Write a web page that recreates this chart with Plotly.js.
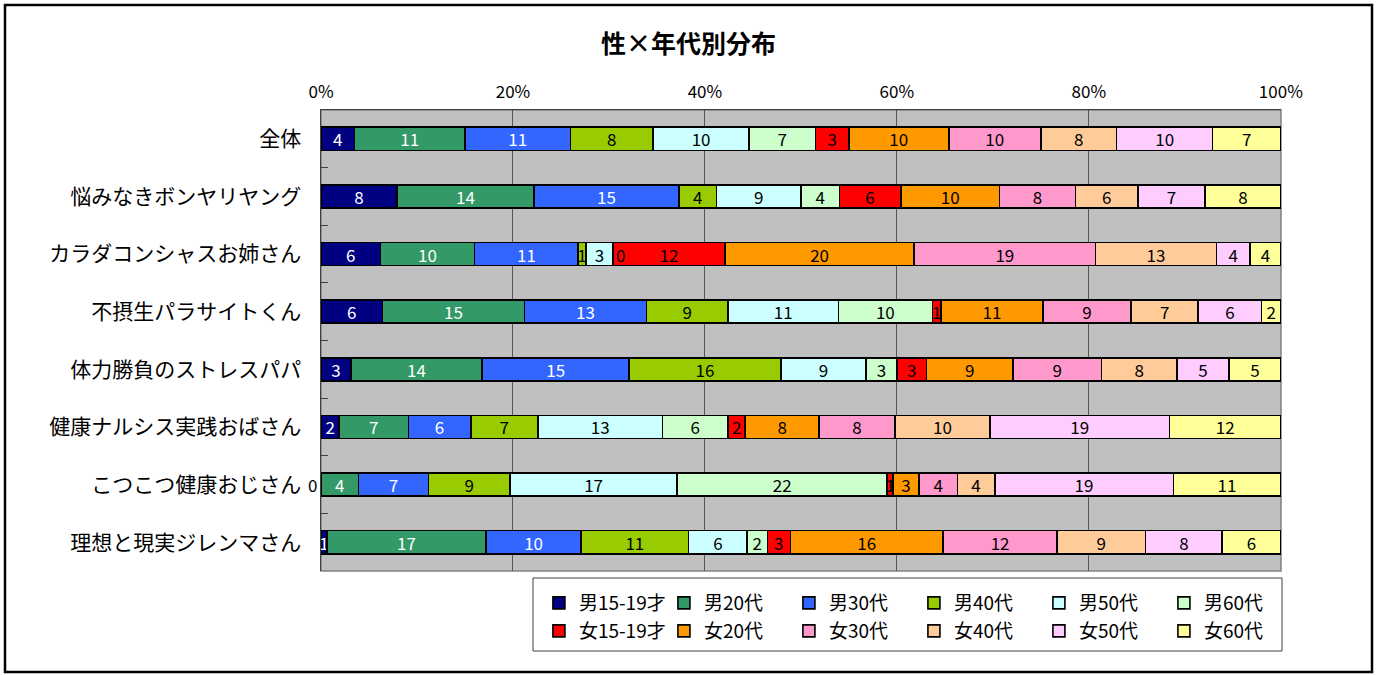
<!DOCTYPE html>
<html>
<head>
<meta charset="utf-8">
<script src="https://cdn.plot.ly/plotly-3.0.1.min.js"></script>
<style>
  html, body { margin: 0; padding: 0; background: #ffffff; }
  #chart { width: 1380px; height: 675px; }
</style>
</head>
<body>
<div id="chart"></div>
<script>
// ---- data ----
const categories = [
  '全体',
  '悩みなきボンヤリヤング',
  'カラダコンシャスお姉さん',
  '不摂生パラサイトくん',
  '体力勝負のストレスパパ',
  '健康ナルシス実践おばさん',
  'こつこつ健康おじさん',
  '理想と現実ジレンマさん'
];
const seriesNames = ['男15-19才', '男20代', '男30代', '男40代', '男50代', '男60代',
                     '女15-19才', '女20代', '女30代', '女40代', '女50代', '女60代'];

// bar shares (%) per row, in series order
const shareZentai    = [3.5, 11.5, 11.0, 8.6, 10.0, 6.9, 3.5, 10.4, 9.6, 7.9, 10.0, 7.1];
const shareBonyari   = [7.9, 14.3, 15.1, 3.9, 8.8, 4.0, 6.4, 10.3, 7.9, 6.5, 7.0, 7.9];
const shareKaradaAne = [6.2, 9.8, 10.8, 0.8, 2.8, 0, 11.7, 19.7, 18.9, 12.6, 3.5, 3.2];
const shareFusessei  = [6.4, 14.8, 12.7, 8.5, 11.5, 9.8, 0.9, 10.6, 9.2, 7.0, 6.6, 2.0];
const shareTairyoku  = [3.1, 13.7, 15.3, 15.8, 8.9, 3.2, 3.1, 9.0, 9.2, 7.9, 5.4, 5.4];
const shareNarcis    = [1.9, 7.2, 6.5, 7.0, 13.0, 6.8, 1.8, 7.7, 7.9, 9.9, 18.7, 11.6];
const shareKotsukotsu= [0, 3.9, 7.3, 8.5, 17.4, 21.9, 0.6, 2.7, 4.0, 3.9, 18.6, 11.2];
const shareRisou     = [0.6, 16.6, 9.9, 11.2, 6.1, 2.1, 2.4, 15.9, 11.9, 9.2, 8.0, 6.1];

// printed data labels per row
const labelZentai    = [4, 11, 11, 8, 10, 7, 3, 10, 10, 8, 10, 7];
const labelBonyari   = [8, 14, 15, 4, 9, 4, 6, 10, 8, 6, 7, 8];
const labelKaradaAne = [6, 10, 11, 1, 3, 0, 12, 20, 19, 13, 4, 4];
const labelFusessei  = [6, 15, 13, 9, 11, 10, 1, 11, 9, 7, 6, 2];
const labelTairyoku  = [3, 14, 15, 16, 9, 3, 3, 9, 9, 8, 5, 5];
const labelNarcis    = [2, 7, 6, 7, 13, 6, 2, 8, 8, 10, 19, 12];
const labelKotsukotsu= [0, 4, 7, 9, 17, 22, 1, 3, 4, 4, 19, 11];
const labelRisou     = [1, 17, 10, 11, 6, 2, 3, 16, 12, 9, 8, 6];

const xTickValues = [0, 20, 40, 60, 80, 100];
const xTickLabels = ['0%', '20%', '40%', '60%', '80%', '100%'];

// ---- styles ----
const seriesColors = ['#000080', '#339966', '#3366FF', '#99CC00', '#CCFFFF', '#CCFFCC',
                      '#FF0000', '#FF9900', '#FF99CC', '#FFCC99', '#FFCCFF', '#FFFF99'];
const labelColors  = ['#ffffff', '#ffffff', '#ffffff', '#000000', '#000000', '#000000',
                      '#000000', '#000000', '#000000', '#000000', '#000000', '#000000'];

const shareRows = [shareZentai, shareBonyari, shareKaradaAne, shareFusessei,
                   shareTairyoku, shareNarcis, shareKotsukotsu, shareRisou];
const labelRows = [labelZentai, labelBonyari, labelKaradaAne, labelFusessei,
                   labelTairyoku, labelNarcis, labelKotsukotsu, labelRisou];

const FONT = '"Noto Sans CJK JP", "Noto Sans", sans-serif';
const LABEL_SIZE = 17;

const traces = seriesNames.map((name, s) => ({
  type: 'bar',
  orientation: 'h',
  name: name,
  y: categories,
  x: shareRows.map(r => r[s]),
  text: labelRows.map(r => String(r[s])),
  textposition: 'inside',
  insidetextanchor: 'middle',
  textangle: 0,
  constraintext: 'none',
  cliponaxis: false,
  textfont: { family: FONT, size: LABEL_SIZE, color: labelColors[s] },
  marker: { color: seriesColors[s], line: { color: '#000000', width: 1.6 } },
  legend: s < 6 ? 'legend' : 'legend2',
  hoverinfo: 'name+x'
}));

// labels of zero-width segments (the bar itself has no width to hold its text)
const zeroLabels = [];
shareRows.forEach((row, r) => {
  let cum = 0;
  row.forEach((v, s) => {
    if (v === 0) {
      zeroLabels.push({
        xref: 'x', yref: 'y', x: cum, y: categories[r],
        text: String(labelRows[r][s]), showarrow: false,
        xanchor: cum === 0 ? 'right' : 'left', xshift: cum === 0 ? -2 : 1,
        font: { family: FONT, size: LABEL_SIZE, color: '#000000' }
      });
    }
    cum += v;
  });
});

const legendCommon = {
  orientation: 'h',
  xanchor: 'left',
  yanchor: 'middle',
  x: 0.227,
  traceorder: 'normal',
  entrywidth: 80,
  entrywidthmode: 'pixels',
  bgcolor: 'rgba(0,0,0,0)',
  borderwidth: 0,
  font: { family: FONT, size: 19, color: '#000000' }
};

const layout = {
  width: 1380,
  height: 675,
  paper_bgcolor: '#ffffff',
  plot_bgcolor: '#C0C0C0',
  margin: { l: 321, r: 99, t: 110, b: 104 },
  title: {
    text: '<b>性×年代別分布</b>',
    font: { family: FONT, size: 25, color: '#000000' },
    xref: 'container', x: 0.499, xanchor: 'center',
    yref: 'container', y: 1 - 44 / 675, yanchor: 'middle'
  },
  barmode: 'stack',
  bargap: 0.6,
  xaxis: {
    range: [0, 100.02],
    side: 'top',
    tickmode: 'array',
    tickvals: xTickValues,
    ticktext: xTickLabels,
    showgrid: true,
    gridcolor: '#555555',
    gridwidth: 1,
    zeroline: false,
    showline: true,
    linecolor: '#404040',
    linewidth: 1.5,
    ticks: '',
    ticklabelstandoff: 4,
    tickfont: { family: FONT, size: 17, color: '#000000' },
    fixedrange: true
  },
  yaxis: {
    type: 'category',
    autorange: 'reversed',
    showgrid: false,
    showline: true,
    linecolor: '#404040',
    linewidth: 1.5,
    ticks: 'inside',
    tickson: 'boundaries',
    ticklen: 7,
    tickcolor: '#404040',
    ticklabelstandoff: 14,
    tickfont: { family: FONT, size: 21, color: '#000000' },
    fixedrange: true
  },
  legend: Object.assign({}, legendCommon, { y: (571 - 603) / 461 }),
  legend2: Object.assign({}, legendCommon, { y: (571 - 631) / 461 }),
  annotations: zeroLabels,
  shapes: [
    // plot area frame (right / bottom edges)
    { type: 'rect', xref: 'paper', yref: 'paper', x0: 0, x1: 1, y0: 0, y1: 1,
      line: { color: '#808080', width: 1.5 }, fillcolor: 'rgba(0,0,0,0)', layer: 'below' },
    // legend box
    { type: 'rect', xref: 'paper', yref: 'paper',
      x0: (533 - 321) / 960, x1: (1282 - 321) / 960,
      y0: (571 - 578) / 461, y1: (571 - 651) / 461,
      line: { color: '#404040', width: 1 }, fillcolor: '#ffffff', layer: 'below' },
    // outer chart border
    { type: 'rect', xref: 'paper', yref: 'paper',
      x0: (5 - 321) / 960, x1: (1372 - 321) / 960,
      y0: (571 - 672) / 461, y1: (571 - 5) / 461,
      line: { color: '#000000', width: 2.5 }, fillcolor: 'rgba(0,0,0,0)' }
  ],
  showlegend: true
};

Plotly.newPlot('chart', traces, layout, { staticPlot: true, displayModeBar: false });
</script>
</body>
</html>
